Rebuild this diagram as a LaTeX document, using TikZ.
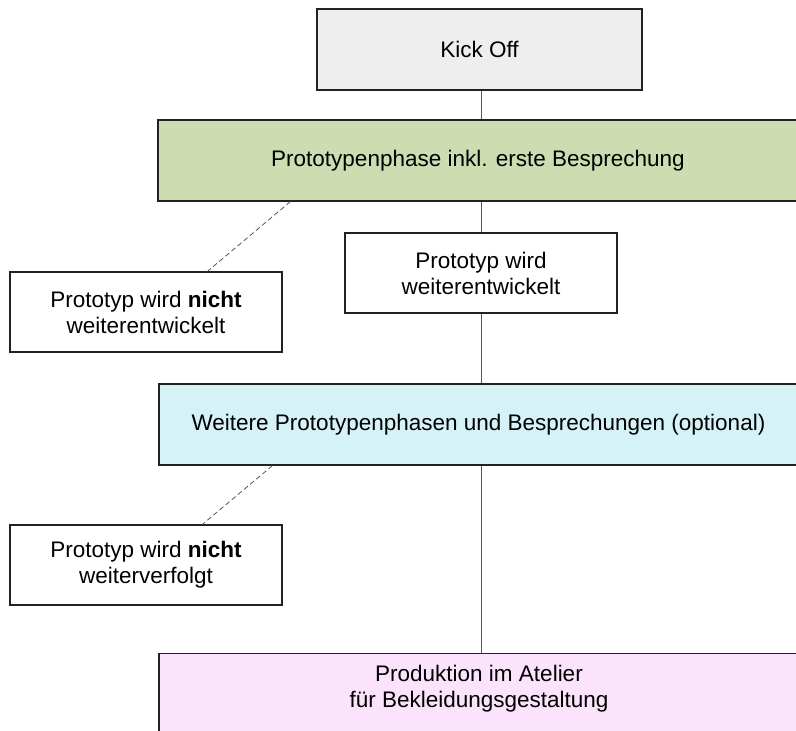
\documentclass[tikz,border=0pt]{standalone}
\usepackage{fontspec}
\setmainfont{Liberation Sans}
\usetikzlibrary{calc}
\definecolor{kickfill}{HTML}{EEEEEE}
\definecolor{greenfill}{HTML}{CDDCB1}
\definecolor{cyanfill}{HTML}{D5F2F6}
\definecolor{pinkfill}{HTML}{FCE3FC}
\definecolor{boxline}{HTML}{222222}
\definecolor{connline}{HTML}{555555}
\begin{document}
\begin{tikzpicture}[x=1pt,y=-1pt,
  box/.style={draw=boxline, line width=1.2pt, inner sep=0pt, align=center,
    font=\fontsize{22.5}{26}\selectfont, text=black},
  txt/.style={inner sep=0pt, align=center, font=\fontsize{22.5}{26}\selectfont, text=black},
  conn/.style={draw=connline, line width=1pt},
  dconn/.style={draw=connline, line width=0.8pt, dash pattern=on 5pt off 3pt}]
\useasboundingbox (0,0) rectangle (796,731);
\clip (0,0) rectangle (796,731);
\node[box, fill=kickfill, minimum width=325pt, minimum height=81pt] (kick) at (479.5,49.5) {Kick Off};
\node[box, fill=greenfill, minimum width=640pt, minimum height=81pt] (green) at (478,160.5) {Prototypenphase inkl. erste Besprechung};
\node[box, fill=white, minimum width=272pt, minimum height=80pt] (mid) at (481,273) {Prototyp wird\\weiterentwickelt};
\node[box, fill=white, minimum width=272pt, minimum height=80pt] (left1) at (146,312) {Prototyp wird \textbf{nicht}\\weiterentwickelt};
\node[box, fill=cyanfill, minimum width=639pt, minimum height=81pt] (cyan) at (478.5,424.5) {Weitere Prototypenphasen und Besprechungen (optional)};
\node[box, fill=white, minimum width=272pt, minimum height=80pt] (left2) at (146,565) {Prototyp wird \textbf{nicht}\\weiterverfolgt};
\node[box, fill=pinkfill, minimum width=639pt, minimum height=90pt, anchor=north] (pink) at (478.5,653) {};
\node[txt] (pinktext) at (479,689) {Produktion im Atelier\\für Bekleidungsgestaltung};
\draw[conn] (kick.south -| mid.center) -- (green.north -| mid.center);
\draw[conn] (green.south -| mid.center) -- (mid.north);
\draw[conn] (mid.south) -- (cyan.north -| mid.center);
\draw[conn] (cyan.south -| mid.center) -- (pink.north -| mid.center);
\draw[dconn] ([xshift=133pt]green.south west) -- ([xshift=198pt]left1.north west);
\draw[dconn] ([xshift=114pt]cyan.south west) -- ([xshift=193pt]left2.north west);
\end{tikzpicture}
\end{document}
